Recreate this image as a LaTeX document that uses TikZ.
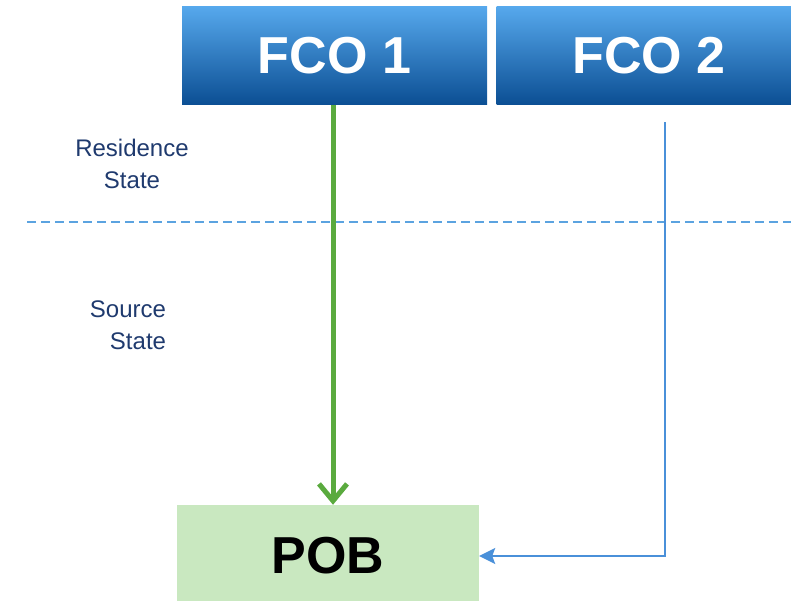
\documentclass[tikz,border=0pt]{standalone}
\usepackage{fontspec}
\setmainfont{Liberation Sans}
\usetikzlibrary{arrows.meta}
\definecolor{fcotop}{HTML}{56A8EC}
\definecolor{fcomid}{HTML}{1670CC}
\definecolor{fcobot}{HTML}{0B4E93}
\definecolor{pobfill}{HTML}{C9E8C0}
\definecolor{greenarr}{HTML}{5AAA3E}
\definecolor{bluearr}{HTML}{4A90D9}
\definecolor{dashblue}{HTML}{5BA3E0}
\definecolor{labelblue}{HTML}{1F3A6E}
\tikzset{
  fcobox/.style={rectangle, inner sep=0pt, minimum width=305pt, minimum height=98pt,
    top color=fcotop, middle color=fcomid, bottom color=fcobot, draw=none,
    text=white, font=\bfseries\fontsize{52}{60}\selectfont},
  pobbox/.style={rectangle, inner sep=0pt, minimum width=302pt, minimum height=102pt,
    fill=pobfill, draw=none, font=\bfseries\fontsize{52}{60}\selectfont},
  statelabel/.style={text=labelblue, font=\fontsize{24}{32}\selectfont, inner sep=0pt},
  greenline/.style={draw=greenarr, line width=5pt, -{Straight Barb[length=17pt,width=28pt]}},
  blueline/.style={draw=bluearr, line width=2pt, -{Stealth[length=16pt,width=16pt,inset=3pt]}},
  sepline/.style={draw=dashblue, line width=1.5pt, dash pattern=on 9pt off 5pt}
}
\begin{document}
\begin{tikzpicture}[x=1pt,y=-1pt]
\useasboundingbox (0,0) rectangle (791,601);
\clip (0,0) rectangle (791,601);
% separator
\coordinate (sepL) at (27,222);
\coordinate (sepR) at (791,222);
\draw[sepline] (sepL) -- (sepR);
% boxes
\node[fcobox] (fco1) at (334.5,56) {FCO 1};
\node[fcobox] (fco2) at (649,56) {FCO 2};
\node[pobbox] (pob) at (328,556) {POB};
% labels
\node[statelabel, align=center] (res) at (132,164) {Residence\\State};
\node[statelabel, align=right] (src) at (128,325) {Source\\\ \ State};
% connectors
\draw[greenline] ([xshift=-1.5pt]fco1.south) -- ([xshift=5pt]pob.north);
\draw[blueline] ([xshift=15.5pt,yshift=-17pt]fco2.south) |- (pob.east);
\end{tikzpicture}
\end{document}
